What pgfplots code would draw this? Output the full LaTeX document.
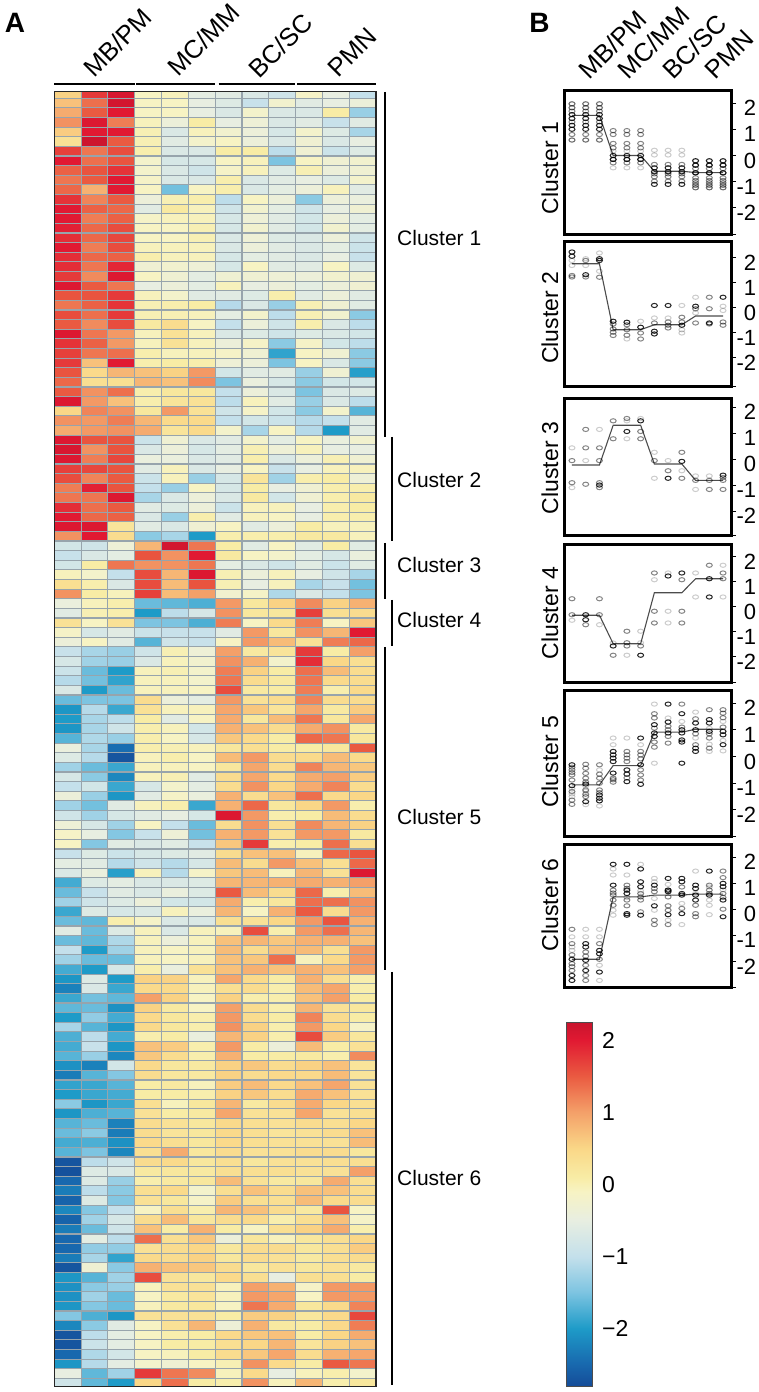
\documentclass[border=0pt]{standalone}
\usepackage{pgfplots}
\usepackage{pgfplotstable}
\usepackage{fontspec}
\setmainfont{Liberation Sans}
\pgfplotsset{compat=1.18}
\definecolor{gridc}{HTML}{97A4AC}

% colours follow the colour key: position = (value+2.8)*2
\pgfplotsset{colormap={rdylbu}{
  rgb255(0cm)=(21,76,152) rgb255(0.6cm)=(24,104,174) rgb255(1.6cm)=(30,155,200)
  rgb255(2.6cm)=(125,196,225) rgb255(3.6cm)=(196,224,235) rgb255(4.6cm)=(232,238,225)
  rgb255(5.4cm)=(247,243,195) rgb255(5.8cm)=(248,236,165) rgb255(6.6cm)=(250,215,135)
  rgb255(7.6cm)=(244,160,105) rgb255(8.6cm)=(234,90,65) rgb255(9.6cm)=(225,25,50)
  rgb255(10.1cm)=(200,20,45)}}

\pgfdeclareplotmark{cell}{%
  \pgfpathrectangle{\pgfqpoint{-13.4pt}{-4.81pt}}{\pgfqpoint{26.8pt}{9.62pt}}%
  \pgfusepathqfillstroke}
\pgfdeclareplotmark{oval}{%
  \pgfpathellipse{\pgfpointorigin}{\pgfqpoint{3pt}{0pt}}{\pgfqpoint{0pt}{2.1pt}}%
  \pgfusepathqstroke}

\pgfplotstableread{
c0 c1 c2 c3 c4 c5 c6 c7 c8 c9 c10 c11
.55 1.75 2.1 -.1 -.05 -.55 -.6 -.7 -.85 -.15 -.5 -1.0
.7 1.35 2.15 -.1 -.1 -.5 -.65 -.95 -.25 -.6 -.5 -.4
.9 1.5 2.0 -.1 -.1 -.5 -.7 -.2 -.7 -.7 .1 -1.3
1.1 2.05 1.25 -.05 -.4 .1 -.5 -.35 -.7 -.6 -.95 -.6
.6 2.0 2.0 0 -.7 -.05 -.25 -.4 -.75 -.2 -.65 -1.2
.3 2.2 1.5 0 -.6 -.2 -.1 -.4 -.7 -.3 -.7 -.5
1.7 1.3 1.6 .05 -.7 -.7 .1 .1 -1.05 -.3 -.9 -.65
2.0 1.35 1.55 -.2 -.75 -.75 -.1 -.05 -1.5 -.1 -.3 -.25
1.45 1.55 1.8 -.2 -.7 -.85 -.15 -.05 -.65 0 -.4 -.3
1.3 1.5 2.0 -.15 -.7 -.7 .05 -.7 -.6 -.5 -.65 -.2
1.4 .85 2.0 -.1 -1.55 -.1 .05 -.7 -.55 -.4 -.05 -.6
1.8 1.2 1.5 -.4 0 .05 -1.05 -.1 -.4 -1.4 -.4 -.45
2.0 1.45 1.4 -.6 .15 -.05 -.85 -.25 -.55 -.85 -.5 -.3
2.0 1.25 1.45 -.15 -.05 -.05 -.75 -.35 -.6 -.8 -.4 -.55
1.95 1.4 1.6 -.1 -.1 0 -.75 -.25 -.6 -.8 -.25 -.55
1.85 1.4 1.65 -.1 -.1 0 -.7 -.35 -.65 -.7 -.4 -.85
2.0 1.25 1.6 -.05 -.05 -.05 -.7 -.4 -.6 -.7 -.55 -.9
1.85 1.4 1.45 .05 -.05 -.05 -.75 -.55 -.6 -.7 -.5 -.95
1.85 1.3 1.9 -.3 -.25 -.35 -.75 -.1 -.6 -.6 -.1 -.65
1.75 1.15 2.05 -.1 -.3 -.55 -.3 -.3 -.35 -.4 -.25 -.3
2.05 1.5 1.3 -.5 -.4 -.55 -.05 -.5 -.4 -.55 -.4 -.3
1.55 1.55 1.75 -.05 -.2 -.6 -.6 -.65 .05 -.6 -.4 -.6
1.3 1.45 1.8 0 .05 .1 -1.1 -.7 -1.3 0 -.3 -.6
1.6 1.35 1.75 0 0 -.05 -.55 -.2 -1.05 0 -.25 -1.4
1.5 1.15 1.6 .15 .4 -.1 -1.0 -.4 -.85 .05 -.7 -1.05
2.05 1.3 1.05 -.05 .3 -.05 -.7 -.65 -.85 -.65 -.7 -.8
1.8 1.45 1.05 -.05 .3 -.05 -.4 -.15 -1.4 -.15 -.8 -1.05
1.7 1.3 1.35 .05 -.05 -.05 -.15 -.3 -1.9 -.1 -.3 -1.4
1.75 .7 2.0 .05 .1 .05 -.35 -.4 -1.5 -.1 -.7 -1.4
1.55 .45 .8 .7 .55 1.05 -.8 -.6 -.6 -1.3 -.3 -1.95
1.4 .35 .35 .8 .7 1.15 -1.5 -.45 -.75 -1.4 -.8 -.8
1.5 1.1 1.35 .05 .2 .2 -1.0 -.4 -.7 -1.5 -.7 -.65
2.05 1.05 .7 .05 .25 .3 -1.05 -.05 -.6 -1.3 -.7 -1.05
.5 1.2 1.1 .2 1.05 .3 -.85 -.15 -.8 -1.4 -.2 -1.7
1.1 1.05 1.25 .8 .45 .45 -1.0 -.8 -.9 -1.1 -1.0 -.6
.9 1.05 1.1 .9 .25 .45 -.2 -1.2 -.1 -1.1 -2.0 -.6
2.05 1.55 1.55 -.9 -.3 -.7 -.6 -.2 -.55 -.1 -.45 -.25
2.1 1.1 1.55 -.7 -.4 -.75 -.55 0 -.35 -.05 -.5 -.5
2.05 1.25 1.65 -.45 -.45 -.7 -.6 .05 -.7 -.4 0 -.3
1.7 1.65 1.55 -.6 -.05 -.7 -.5 -.1 -.95 -.5 -.05 -.05
1.6 1.2 1.5 -.9 -.05 -1.3 -.75 .25 -1.25 .05 .1 -.35
1.25 1.95 1.55 -1.0 -1.3 -.1 -.75 .1 -.5 -.3 .05 .05
1.3 1.3 2.05 -1.2 -.7 -.4 -.7 .15 -.8 -.3 .05 .15
1.85 1.35 1.5 -.6 -.65 -.4 -.9 -.05 -.05 -.5 .05 .1
2.0 1.4 1.45 -.7 -1.3 .05 -.6 -.05 -.1 -.5 .05 .05
2.05 2.05 .25 -.6 -.7 -.3 -.1 -.6 -.4 .1 -.05 -.05
1.1 2.0 .4 -1.4 -1.2 -2.0 .05 .05 .05 .15 .15 -.05
-.8 -.85 -.35 .8 2.15 1.3 .1 -.6 -.1 -.6 .1 -.6
-.95 -.7 -.55 1.55 1.1 2.0 .15 -.1 -.2 -.55 -.75 -.45
-.8 .1 1.3 1.1 1.1 1.3 -.55 -.7 -.85 -.6 -.9 -.6
-.05 -.2 -1.0 1.6 .8 2.05 0 -.4 -.05 -.5 -.85 -1.2
.35 .05 -.7 1.6 .75 1.55 0 -.5 -.05 -1.2 -.95 -1.55
1.1 .1 -.05 1.7 .75 1.0 -.25 -.15 -1.15 -.7 -1.0 -1.5
-.45 -.05 .05 -1.6 -1.65 -1.75 1.05 .2 .55 1.15 .55 .85
-.6 0 .05 -2.0 -1.05 -.75 1.1 .2 .2 1.7 .35 .4
.3 -.1 .3 -1.5 -1.5 -1.75 1.25 -.1 .45 1.25 -.1 .65
-.15 -.75 -.6 -.9 -.95 -.95 -.6 1.05 .2 1.1 .8 2.0
-.4 -.1 -.6 -1.7 -.85 -.95 -.1 1.05 .75 .3 1.25 1.4
-.95 -1.2 -1.3 -.85 0 -.35 1.0 .15 .25 1.75 .1 1.0
-.75 -1.25 -1.3 -.7 -.05 -.25 1.1 .85 -.2 1.85 .5 .35
-.9 -1.6 -2.0 -.05 0 -.2 1.25 .55 .1 1.35 .75 .4
-1.1 -1.55 -1.9 -.05 -.05 -.2 1.3 .4 .15 1.3 .45 .4
-.7 -2.0 -1.6 -.05 -.05 -.1 1.6 .15 .1 1.25 .05 .45
-1.6 -1.5 -1.5 .4 -.4 -.55 1.05 .3 .4 1.2 .4 .4
-2.05 -1.1 -1.85 .3 -.05 -.05 .95 .65 .25 .95 .15 .6
-2.0 -1.2 -1.05 .1 -.6 -.1 .9 .2 .75 1.3 .2 .95
-2.05 -1.2 -.85 .05 -.05 -.8 .85 .7 .4 .9 1.1 .15
-1.7 -1.15 -1.3 .05 -.1 -.75 .65 .45 .1 1.4 1.3 .2
-.45 -1.2 -2.45 .05 0 -.05 .2 .35 .1 .1 .2 1.5
-.65 -1.1 -2.7 -.05 .05 -.1 .75 1.05 .4 .45 .75 .45
-1.25 -1.6 -1.85 -.05 -.05 -.1 .2 .95 .4 1.2 .8 .65
-.75 -1.4 -2.2 -.05 0 -.6 .4 .95 .45 .9 1.0 .6
-1.0 -.8 -1.85 -.75 -.2 -.55 .4 1.1 .5 .9 1.2 .4
-.4 -1.3 -2.05 -.6 -.15 -.45 .85 .4 .7 1.35 .45 .5
-1.25 -1.55 -.6 -.05 .05 -1.85 .85 1.4 .2 .5 1.05 .05
-.85 -1.25 -.75 -.6 -.5 -.75 2.05 1.05 .05 .1 .75 .4
-.35 -.75 -1.25 -.1 -1.0 -1.6 .4 1.1 .35 1.15 .8 .55
-.15 -.5 -1.45 -.95 -.35 -1.55 .85 1.05 .3 1.05 1.05 .15
-.1 -1.45 -.6 -.7 -.6 -.95 .65 1.75 .05 .1 1.35 .35
-.95 -.65 -.9 -.75 -.65 -.6 .4 .7 .7 -.05 1.4 1.55
-.55 -.6 -1.1 -.85 -1.1 -.75 .75 .4 1.05 .7 .35 1.4
-.7 -.45 -1.95 -.05 -1.1 -.15 .65 .75 -.05 .8 .3 2.05
-1.8 -.65 -.55 -.7 -.7 -.65 .8 .8 .85 .9 .85 1.0
-1.6 -.95 -.6 -.7 -.45 -.65 1.5 .75 .4 1.4 .05 .75
-1.25 -.85 -.65 -.4 -.8 -.8 .9 .05 .2 1.35 1.35 1.1
-1.85 -.65 -.75 -.7 -.05 -.45 .8 -.1 .85 1.5 .4 1.05
-1.6 -1.65 .05 -.15 -.7 -.7 .35 .3 .5 1.05 1.55 .85
-.6 -1.6 -.65 -.05 -.7 -.05 -.05 1.6 .05 1.05 1.35 .8
-1.6 -1.65 -1.15 -.05 -.4 -.05 .7 .8 .65 .85 .85 .7
-1.0 -2.0 -1.25 -.05 -.1 -.05 .75 .4 .7 .75 .35 1.05
-1.25 -1.6 -1.6 -.05 -.1 -.05 .7 .65 1.35 -.05 .45 1.05
-1.8 -2.0 -.75 .05 -.45 .3 .7 .85 .7 .85 .7 1.0
-2.05 -.65 -2.0 .55 .55 -.05 .95 .45 .1 .85 .35 .05
-2.25 -.7 -1.85 .45 .45 -.05 .35 .4 .05 .75 .95 .05
-1.85 -1.55 -1.65 1.0 .55 -.1 .55 .05 .05 .7 1.0 .1
-1.65 -1.6 -2.1 .55 .15 -.1 1.0 .4 .05 .8 .3 .2
-2.0 -1.35 -1.8 .45 .2 .05 1.05 .4 .1 1.2 .4 .1
-1.2 -1.7 -2.05 .45 .2 .05 1.1 .55 .05 1.05 .5 -.15
-1.75 -1.05 -1.8 .05 .1 -.45 .8 .55 .05 1.6 .6 .2
-1.8 -.95 -2.05 .7 .6 .05 1.05 .1 -.4 .75 .1 .3
-1.7 -1.3 -2.2 .65 .4 .05 .85 .1 .1 .15 .05 1.15
-2.1 -2.25 -.8 .45 .2 .15 .55 .65 .4 .55 .7 .25
-2.3 -1.7 -1.45 .4 .2 .15 .55 .4 .45 .45 .75 .25
-1.9 -1.85 -1.7 .1 .15 -.05 .6 .75 .45 .7 .95 .3
-2.0 -1.85 -1.8 .1 .1 .05 .55 .65 .4 .9 .7 .3
-1.4 -2.05 -1.85 .35 -.05 .2 .8 .15 .4 .9 .5 .35
-2.05 -1.75 -1.7 .3 .1 .15 .95 .3 .3 .95 .3 .35
-1.7 -1.6 -2.25 .4 .3 .2 .45 .35 .3 .4 .35 .5
-1.6 -1.4 -2.3 .4 .25 .2 .45 .35 .25 .3 .4 .7
-1.8 -1.75 -2.1 .45 .35 .2 .45 .35 .3 .3 .3 .75
-1.7 -1.5 -2.2 .35 .9 .2 .4 .3 .3 .4 .4 .2
-2.7 -1.05 -.85 .4 .45 .2 .35 .2 .3 .3 .35 .35
-2.75 -.65 -.7 .15 .2 .15 .35 .35 .35 .3 .3 1.0
-2.5 -.65 -1.3 .05 .15 .2 .75 .3 .15 .2 .9 .35
-2.3 -1.05 -1.4 .35 .45 -.2 .35 .7 .4 .7 .7 .4
-2.55 -.65 -1.45 .3 .2 -.15 .6 .35 .35 .75 .45 .4
-2.2 -1.45 -1.0 -.1 .35 .05 .8 .7 .4 .15 1.55 -.1
-2.55 -1.25 -.75 .4 .75 .2 .4 .45 .05 .35 .7 -.15
-2.3 -1.6 -.85 .7 .1 .85 .1 -.1 .35 .55 .9 .05
-2.5 -.55 -1.05 1.35 .35 .65 -.4 .2 -.05 .2 .35 .5
-2.5 -1.35 -1.35 .3 .4 .5 .2 .4 .4 .2 .35 .6
-2.3 -1.2 -1.9 .45 .4 .55 .2 .4 .3 .15 .35 .4
-2.7 -.3 -1.4 .85 .7 .65 .4 .2 .3 .2 .3 .15
-2.05 -1.7 -1.25 1.6 .3 .2 .45 .35 -.5 .35 .35 .1
-2.1 -1.4 -1.3 -.05 .3 .3 -.05 1.0 .85 -.15 1.05 1.05
-2.1 -1.25 -1.6 -.1 .15 .25 -.05 1.05 .95 -.1 1.05 1.05
-2.05 -1.45 -1.6 -.05 .15 .2 -.1 1.3 .9 .2 .45 1.2
-1.45 -1.75 -2.05 .3 .3 .3 .1 .6 .55 .2 .45 1.65
-2.2 -1.4 -.6 -.1 .3 .8 -.35 .85 .15 .1 .45 1.25
-2.7 -1.05 -.55 -.1 .05 .1 .45 .65 .7 .1 .5 .9
-2.7 -.9 -.55 -.1 .1 .1 .35 .5 .8 .25 .55 .7
-2.5 -1.15 -.8 -.1 -.05 .1 .4 .65 .95 .4 .85 .95
-2.05 -1.1 -.55 -.2 -.3 -.1 0 1.1 .45 .1 1.5 1.3
-.5 -1.65 -1.25 1.75 1.3 1.15 -.05 .45 -.5 -.05 .05 -.2
-.85 -1.65 -2.0 .5 1.35 .1 .05 1.1 -.05 .8 .05 .2
}\heat

\pgfplotsset{
  clusterax/.style n args={3}{
    scale only axis, width=167pt, height=#1pt,
    xmin=0.42, xmax=12.58,
    xtick=\empty,
    ytick={-2,-1,0,1,2},
    ymin=#2, ymax=#3,
    axis line style={line width=3pt},
    ytick pos=right, yticklabel pos=right,
    tick align=outside, major tick length=5pt,
    tick style={black, line width=1pt},
    extra y ticks={#2}, extra y tick labels={},
    yticklabel style={font=\fontsize{22}{26}\selectfont, anchor=west,
      text width=20pt, align=right, inner xsep=0pt, xshift=0pt, yshift=-5pt,
      /pgf/number format/assume math mode=true},
    ylabel style={font=\fontsize{23}{27}\selectfont},
  },
  ptL/.style={only marks, mark=oval, mark options={draw=black, draw opacity=.2, line width=1pt}},
  ptM/.style={only marks, mark=oval, mark options={draw=black, draw opacity=.48, line width=1pt}},
  ptD/.style={only marks, mark=oval, mark options={draw=black, draw opacity=.85, line width=1pt}},
  meanline/.style={no marks, draw=black!70, line width=1.1pt},
}

\begin{document}
\begin{tikzpicture}[x=1pt,y=1pt]

% panel A, heat map
\begin{axis}[
    at={(54.3pt,5.5pt)}, anchor=south west,
    scale only axis, width=321.7pt, height=1295pt,
    xmin=-0.5, xmax=11.5, ymin=-0.207, ymax=134.35, y dir=reverse,
    xtick=\empty, ytick=\empty,
    axis on top, clip marker paths=true,
    axis line style={line width=1.2pt, black!85},
    colormap name=rdylbu, point meta min=-2.8, point meta max=2.25,
  ]
  \pgfplotsinvokeforeach{0,...,11}{
    \addplot[scatter, only marks, mark=cell, scatter src=explicit,
      scatter/use mapped color={draw=gridc, fill=mapped color, line width=1.1pt}]
      table[x expr=#1, y expr=\coordindex, meta=c#1] {\heat};
  }
\end{axis}

% group bars and labels above the heat map
\foreach \a/\b in {54.3/134.7,136/215,218.7/295,297.3/375.7}
  \draw[line width=2pt] (\a,1308) -- (\b,1308);
\foreach \x/\y/\t in {118/1349.5/MB\slash PM,204/1352/MC\slash MM,280.5/1346.5/BC\slash SC,352/1339.5/PMN}
  \node[rotate=45, font=\fontsize{25.5}{29}\selectfont, inner sep=0pt] at (\x,\y) {\t};
\foreach \x/\y/\t in {612.5/1347.5/MB\slash PM,653.5/1349/MC\slash MM,695/1345/BC\slash SC,729/1337.5/PMN}
  \node[rotate=45, font=\fontsize{25.5}{29}\selectfont, inner sep=0pt] at (\x,\y) {\t};
\node[font=\fontsize{28}{32}\selectfont\bfseries, inner sep=0pt] at (15,1369) {A};
\node[font=\fontsize{28}{32}\selectfont\bfseries, inner sep=0pt] at (539.5,1369) {B};

% cluster brackets
\foreach \x/\a/\b/\m/\n in {385/92/437/238/1,392/437/541/480/2,385/543/599/565/3,392/600/646/620/4,385/647/970/817/5,392/972/1385/1178/6}{
  \draw[line width=2.4pt] (\x,1392-\a) -- (\x,1392-\b);
  \node[anchor=west, font=\fontsize{21}{25}\selectfont, inner sep=0pt] at (397,1392-\m) {Cluster \n};
}

% panel B, one axis per cluster
\begin{axis}[at={(564pt,1157pt)}, anchor=south west, clusterax={144}{-3.03}{2.46},
    ylabel={Cluster 1}, ylabel style={at={(axis description cs:-0.084,0.465)}, rotate=0, anchor=center}]
  \addplot[ptL] coordinates {(1,1.97)(2,1.97)(3,1.97)(1,1.82)(2,1.82)(3,1.82)(1,.59)(2,.59)(3,.59)
    (4,-.47)(5,-.47)(6,-.47)(4,.17)(5,.17)(6,.17)(7,.2)(8,.2)(9,.2)(7,.02)(8,.02)(9,.02)
    (10,-1.1)(11,-1.1)(12,-1.1)(10,-1.23)(11,-1.23)(12,-1.23)(10,-.2)(11,-.2)(12,-.2)};
  \addplot[ptM] coordinates {(1,1.97)(2,1.97)(3,1.97)(1,1.82)(2,1.82)(3,1.82)(1,1.69)(2,1.69)(3,1.69)
    (1,1.28)(2,1.28)(3,1.28)(1,.8)(2,.8)(3,.8)(1,.59)(2,.59)(3,.59)
    (4,.95)(5,.95)(6,.95)(4,.8)(5,.8)(6,.8)(4,.46)(5,.46)(6,.46)(4,.29)(5,.29)(6,.29)
    (4,-.15)(5,-.15)(6,-.15)(4,-.28)(5,-.28)(6,-.28)
    (7,-.34)(8,-.34)(9,-.34)(7,-.7)(8,-.7)(9,-.7)(7,-.81)(8,-.81)(9,-.81)(7,-.98)(8,-.98)(9,-.98)
    (10,-.37)(11,-.37)(12,-.37)(10,-.5)(11,-.5)(12,-.5)(10,-.85)(11,-.85)(12,-.85)(10,-.95)(11,-.95)(12,-.95)
    (10,-1.04)(11,-1.04)(12,-1.04)(10,-1.14)(11,-1.14)(12,-1.14)(10,-1.23)(11,-1.23)(12,-1.23)(10,-.66)(11,-.66)(12,-.66)};
  \addplot[ptD] coordinates {(1,1.56)(2,1.56)(3,1.56)(1,1.41)(2,1.41)(3,1.41)(1,1.15)(2,1.15)(3,1.15)
    (1,1)(2,1)(3,1)(4,0)(5,0)(6,0)(4,-.15)(5,-.15)(6,-.15)
    (7,-.47)(8,-.47)(9,-.47)(7,-.62)(8,-.62)(9,-.62)(7,-1.1)(8,-1.1)(9,-1.1)
    (10,-.2)(11,-.2)(12,-.2)(10,-.37)(11,-.37)(12,-.37)(10,-.66)(11,-.66)(12,-.66)};
  \addplot[meanline] coordinates {(1,1.53)(2,1.53)(3,1.53)(4,0)(5,0)(6,0)(7,-.6)(8,-.6)(9,-.6)(10,-.65)(11,-.65)(12,-.65)};
\end{axis}

\begin{axis}[at={(564pt,1005pt)}, anchor=south west, clusterax={145}{-3.16}{2.64},
    ylabel={Cluster 2}, ylabel style={at={(axis description cs:-0.084,0.476)}, rotate=0, anchor=center}]
  \addplot[ptL] coordinates {(1,1.9)(1,1.7)(2,1.97)(2,1.7)(3,2.2)(3,1.47)(5,-1.24)(6,-.53)(7,-.4)(8,-.4)(9,.1)
    (9,-.87)(9,-1)(10,.43)(10,-.2)(12,.07)(12,-.1)};
  \addplot[ptM] coordinates {(1,1.3)(1,1.24)(2,1.9)(2,1.24)(3,1.23)(4,-.64)(4,-.84)(4,-.97)(4,-1.1)(5,-.67)(5,-.87)(5,-1.09)
    (6,-1)(6,-1.24)(7,-.6)(8,-.56)(8,-.69)(8,-.8)(9,-.37)(9,-.56)(10,-.03)(10,-.6)(11,.43)(11,-.03)(11,-.64)
    (12,-.56)(12,-.69)};
  \addplot[ptD] coordinates {(1,2.24)(1,2.07)(2,1.33)(3,1.97)(3,1.9)(4,-.53)(5,-.57)(6,-.77)(7,.1)(7,-.93)(7,-1.04)(8,.1)
    (9,-.69)(10,.07)(11,-.6)(12,.43)};
  \addplot[meanline] coordinates {(1,1.77)(2,1.77)(3,1.77)(4,-.87)(5,-.87)(6,-.87)(7,-.67)(8,-.67)(9,-.67)(10,-.32)(11,-.32)(12,-.32)};
\end{axis}

\begin{axis}[at={(564pt,856pt)}, anchor=south west, clusterax={137}{-2.96}{2.31},
    ylabel={Cluster 3}, ylabel style={at={(axis description cs:-0.084,0.496)}, rotate=0, anchor=center}]
  \addplot[ptL] coordinates {(1,.43)(1,-1.1)(2,-.06)(3,1.14)(5,.78)(5,1.47)(6,1.56)(7,.26)(7,-.74)(8,-.06)(9,-.45)(10,-.65)(10,-1.17)(11,-.65)};
  \addplot[ptM] coordinates {(1,-.06)(1,-.91)(2,1.14)(2,.43)(2,-.97)(3,.43)(3,-.06)(3,-.91)(3,-1.1)(4,1.47)(4,.78)
    (5,1.56)(6,1.06)(6,.78)(7,-.06)(8,-.45)(9,.26)(9,-.74)(10,-.82)(11,-.82)(11,-1.17)(12,-.71)(12,-.82)(12,-1.17)};
  \addplot[ptD] coordinates {(3,-1)(5,1.06)(6,1.47)(8,-.74)(9,-.09)(12,-.62)};
  \addplot[meanline] coordinates {(1,-.23)(2,-.23)(3,-.23)(4,1.3)(5,1.3)(6,1.3)(7,-.19)(8,-.19)(9,-.19)(10,-.82)(11,-.82)(12,-.82)};
\end{axis}

\begin{axis}[at={(564pt,709pt)}, anchor=south west, clusterax={138}{-3.04}{2.48},
    ylabel={Cluster 4}, ylabel style={at={(axis description cs:-0.084,0.507)}, rotate=0, anchor=center}]
  \addplot[ptL] coordinates {(1,-.53)(3,-.71)(4,-1.44)(5,-1.93)(6,-.97)(6,-1.43)(7,1.09)(8,1.36)(8,-.17)(8,-.64)(10,1.36)(10,.4)(12,1.67)(12,.4)};
  \addplot[ptM] coordinates {(1,.33)(1,-.31)(2,-.71)(3,.33)(3,-.31)(4,-1.93)(5,-.97)(5,-1.43)(5,-1.56)(6,-1.56)
    (7,1.36)(7,-.17)(7,-.64)(9,1.09)(9,-.17)(9,-.64)(11,1.67)(12,1.36)(12,1.13)};
  \addplot[ptD] coordinates {(2,-.31)(2,-.51)(4,-1.56)(6,-1.93)(8,1.24)(9,1.36)(11,1.13)(11,.4)};
  \addplot[meanline] coordinates {(1,-.33)(2,-.33)(3,-.33)(4,-1.47)(5,-1.47)(6,-1.47)(7,.57)(8,.57)(9,.57)(10,1.13)(11,1.13)(12,1.13)};
\end{axis}

\begin{axis}[at={(564pt,555pt)}, anchor=south west, clusterax={146}{-3.01}{2.45},
    ylabel={Cluster 5}, ylabel style={at={(axis description cs:-0.084,0.514)}, rotate=0, anchor=center}]
  \addplot[ptL] coordinates {(1,-1.5)(1,-1.4)(1,-1.2)(2,-1.3)(2,-1.8)(2,-1.1)(3,-1.85)(3,-.5)(4,.69)(4,.44)(5,.69)(6,.44)(7,1.96)(7,-.25)(8,1.44)(9,1.31)
    (10,.69)(10,1.66)(11,.46)(11,.19)(12,1.31)(12,.21)(12,.6)(11,1.05)};
  \addplot[ptM] coordinates {(1,-.4)(1,-.5)(1,-.6)(1,-.69)(1,-.88)(1,-1.31)(1,-1.63)(1,-1.79)(2,-.29)(2,-.44)(2,-.63)(2,-.81)(2,-.95)(2,-1.25)(2,-1.41)(2,-1.5)
    (3,-.31)(3,-.66)(3,-.81)(3,-1)(3,-1.25)(3,-1.35)(4,-.81)(4,-.96)(4,-.87)(5,.19)(5,.06)(5,-.06)(5,-.19)(5,-.8)
    (6,.19)(6,.06)(6,-.09)(6,-.5)(6,-.69)(6,-.88)(7,1.6)(7,1.44)(7,1.06)(7,.54)(7,.35)(8,1.13)(8,.75)(8,.5)(8,1)
    (9,1.96)(9,1.1)(10,1.41)(10,.44)(10,.85)(11,1.75)(11,.69)(11,.31)(11,.85)(12,1.75)(12,1.62)(12,1.45)(12,1.1)};
  \addplot[ptD] coordinates {(1,-.31)(1,-1.09)(2,-1.03)(2,-1.69)(3,-1.44)(3,-1.56)(3,-1.66)(4,.19)(4,.06)(4,-.06)(4,-.19)(4,-.62)
    (5,-.5)(5,-.66)(5,-.94)(6,.69)(6,-.31)(6,-1.04)(7,1.19)(7,.88)(7,.75)(8,1.96)(8,1.29)(8,.88)
    (9,1.6)(9,1)(9,.88)(9,.62)(9,.54)(9,-.25)(10,1.25)(10,1)(10,.31)(10,.19)(11,1.38)(11,1.25)(11,.94)
    (12,.94)(12,.81)(12,.44)};
  \addplot[meanline] coordinates {(1,-1.06)(2,-1.06)(3,-1.06)(4,-.34)(5,-.34)(6,-.34)(7,.91)(8,.91)(9,.91)(10,1.02)(11,1.02)(12,1.02)};
\end{axis}

\begin{axis}[at={(564pt,404pt)}, anchor=south west, clusterax={143}{-3.02}{2.46},
    ylabel={Cluster 6}, ylabel style={at={(axis description cs:-0.084,0.58)}, rotate=0, anchor=center}]
  \addplot[ptL] coordinates {(1,-1.06)(1,-1.58)(1,-1.45)(2,-.77)(2,-1.06)(3,-.77)(3,-1.06)(3,-2.73)(3,-2.15)(4,1.54)(4,1.31)(4,-.04)(4,-.23)(5,1.31)(5,.45)(6,1.72)(6,.7)
    (7,1.18)(7,.41)(7,-.04)(7,1.05)(8,-.42)(8,.95)(9,.22)(9,-.59)(10,1.46)(10,.6)(11,.35)(11,.15)(11,-.21)(11,.85)(12,.75)};
  \addplot[ptM] coordinates {(1,-.77)(1,-1.32)(1,-1.75)(1,-2.09)(1,-2.2)(1,-2.35)(2,-1.64)(2,-1.8)(2,-2.15)(2,-2.54)(2,-2.73)(3,-1.32)(3,-1.92)(4,.73)(4,.54)(4,.35)(4,.15)(4,.62)
    (5,.92)(5,.35)(5,.13)(5,.8)(6,.47)(6,.35)(6,-.1)(6,.6)(7,.79)(7,.67)(7,-.42)(7,-.59)(8,.73)(8,.47)(8,.13)(8,-.04)(8,-.59)
    (9,.03)(9,.85)(10,.15)(10,-.17)(10,-.29)(11,.92)(11,.73)(11,.6)(12,1.46)(12,1.21)(12,.6)(12,0)(12,.45)};
  \addplot[ptD] coordinates {(1,-1.92)(1,-2.54)(1,-2.73)(2,-1.32)(2,-1.45)(2,-1.96)(2,-2.35)(3,-1.58)(3,-1.71)(3,-2.41)(4,1.72)(4,.92)
    (5,1.72)(5,.73)(5,.6)(5,-.17)(5,-.23)(6,1.54)(6,1.05)(6,.86)(6,-.23)(7,.92)(7,.13)(8,1.18)(8,.73)(8,.67)(8,-.21)
    (9,1.18)(9,1.05)(9,.6)(9,.54)(9,-.17)(10,.92)(10,.79)(10,.54)(10,.35)(11,1.46)(11,.54)
    (12,.99)(12,.86)(12,.35)(12,-.29)};
  \addplot[meanline] coordinates {(1,-1.92)(2,-1.92)(3,-1.92)(4,.47)(5,.47)(6,.47)(7,.54)(8,.54)(9,.54)(10,.58)(11,.58)(12,.58)};
\end{axis}

% colour key
\begin{axis}[at={(566pt,6pt)}, anchor=south west, scale only axis, width=26pt, height=364pt,
    xmin=0, xmax=1, ymin=-2.8, ymax=2.25, xtick=\empty,
    ytick={-2,-1,0,1,2}, yticklabels={−2,−1,0,1,2},
    ytick pos=right, yticklabel pos=right, major tick length=0pt,
    yticklabel style={font=\fontsize{23}{27}\selectfont, anchor=west, inner xsep=0pt, xshift=10pt},
    axis on top, axis line style={line width=.8pt, black!70},
    colormap name=rdylbu, point meta min=-2.8, point meta max=2.25,
  ]
  \addplot[surf, shader=interp, mesh/cols=2, point meta=y]
    coordinates {(0,-2.8)(1,-2.8)(0,2.25)(1,2.25)};
\end{axis}

\pgfresetboundingbox
\path[use as bounding box] (0,0) rectangle (759,1392);
\end{tikzpicture}
\end{document}
